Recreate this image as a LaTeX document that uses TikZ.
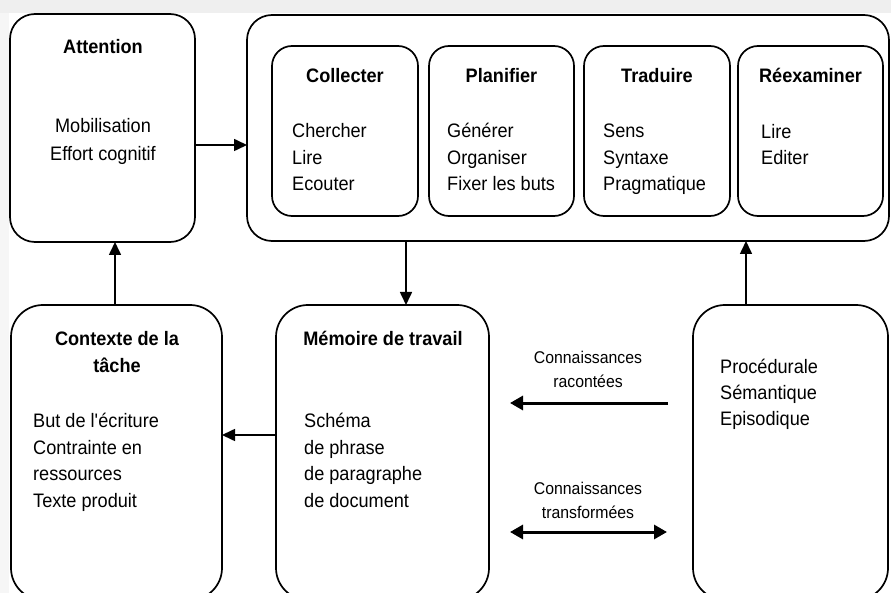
\documentclass[tikz,border=0pt]{standalone}
\usepackage{fontspec}
\setmainfont{Liberation Sans}[FakeStretch=0.93]
\usetikzlibrary{arrows.meta}

\definecolor{stripgray}{HTML}{EFEFEF}
\definecolor{sidegray}{HTML}{F6F6F6}

\tikzset{
  roundbox/.style={draw=black, line width=1.7pt, rounded corners=#1, inner sep=0pt, outer sep=0pt},
  roundbox/.default=22pt,
  % multi-line nodes: the base anchor sits on the last line
  title/.style={inner sep=0pt, anchor=base, font=\fontsize{19.5}{27}\selectfont\bfseries},
  body/.style={inner sep=0pt, anchor=base west, align=left, font=\fontsize{19.5}{26.5}\selectfont},
  klabel/.style={inner sep=0pt, anchor=base, align=center, font=\fontsize{17}{24}\selectfont},
  conn/.style={line width=1.6pt, -{Triangle[length=13pt,width=12pt]}},
  kconn/.style={line width=3pt, -{Triangle[length=13pt,width=14pt]}},
  kboth/.style={line width=3pt, {Triangle[length=13pt,width=14pt]}-{Triangle[length=13pt,width=14pt]}}
}

\begin{document}
\begin{tikzpicture}[x=1pt, y=-1pt]
  \useasboundingbox (0,0) rectangle (891,593);
  \clip (0,0) rectangle (891,593);

  % page background with light strips at top and left
  \fill[white] (0,0) rectangle (891,593);
  \fill[sidegray] (0,13) rectangle (9,593);
  \fill[stripgray] (0,0) rectangle (891,13);

  % top row: attention and the writing processes
  \node[roundbox=25pt, minimum width=185, minimum height=228] (att) at (102.5,128) {};
  \node[roundbox=25pt, minimum width=642, minimum height=226] (big) at (568,128) {};

  \node[roundbox=20pt, minimum width=146, minimum height=170] (col) at (345,131) {};
  \node[roundbox=20pt, minimum width=145, minimum height=170] (pla) at (501.5,131) {};
  \node[roundbox=20pt, minimum width=146, minimum height=170] (tra) at (657,131) {};
  \node[roundbox=20pt, minimum width=145, minimum height=170] (ree) at (810.5,131) {};

  % bottom row: task context, working memory, long-term knowledge
  \node[roundbox=32pt, minimum width=211, minimum height=295] (ctx) at (116.5,452.5) {};
  \node[roundbox=32pt, minimum width=213, minimum height=295] (mem) at (382.5,452.5) {};
  \node[roundbox=32pt, minimum width=195, minimum height=295] (ltm) at (790.5,452.5) {};

  % texts of the attention box
  \node[title] (attT) at (103,54) {Attention};
  \node[inner sep=0pt, anchor=base, align=center, font=\fontsize{19.5}{28}\selectfont] (attB) at (103,161) {Mobilisation\\Effort cognitif};

  % texts of the process boxes
  \node[title] (colT) at (col.center |- 0,83) {Collecter};
  \node[body] (colB) at (292,191) {Chercher\\Lire\\Ecouter};
  \node[title] (plaT) at (pla.center |- 0,83) {Planifier};
  \node[body] (plaB) at (447,191) {Générer\\Organiser\\Fixer les buts};
  \node[title] (traT) at (tra.center |- 0,83) {Traduire};
  \node[body] (traB) at (603,191) {Sens\\Syntaxe\\Pragmatique};
  \node[title] (reeT) at (ree.center |- 0,83) {Réexaminer};
  \node[body] (reeB) at (761,165) {Lire\\Editer};

  % texts of the bottom boxes
  \node[title, align=center] (ctxT) at (117,372) {Contexte de la\\tâche};
  \node[body] (ctxB) at (33,507) {But de l\textquotesingle écriture\\Contrainte en\\ressources\\Texte produit};
  \node[title] (memT) at (383,345) {Mémoire de travail};
  \node[body] (memB) at (304,507) {Schéma\\de phrase\\de paragraphe\\de document};
  \node[body, font=\fontsize{19.5}{26}\selectfont] (ltmB) at (720,425) {Procédurale\\Sémantique\\Episodique};

  % connectors between the boxes
  \draw[conn] (att.east |- 0,145) -- (big.west |- 0,145);
  \draw[conn] (ctx.north -| 115,0) -- (att.south -| 115,0);
  \draw[conn] (big.south -| 406,0) -- (mem.north -| 406,0);
  \draw[conn] (ltm.north -| 746,0) -- (big.south -| 746,0);
  \draw[conn] (mem.west |- 0,435) -- (ctx.east |- 0,435);

  % knowledge exchanges with long-term memory
  \coordinate (k1s) at (668,403);
  \coordinate (k1e) at (510,403);
  \coordinate (k2s) at (510,532);
  \coordinate (k2e) at (667,532);
  \draw[kconn] (k1s) -- (k1e);
  \draw[kboth] (k2s) -- (k2e);
  \node[klabel] (k1L) at (588,387) {Connaissances\\racontées};
  \node[klabel] (k2L) at (588,518) {Connaissances\\transformées};
\end{tikzpicture}
\end{document}
